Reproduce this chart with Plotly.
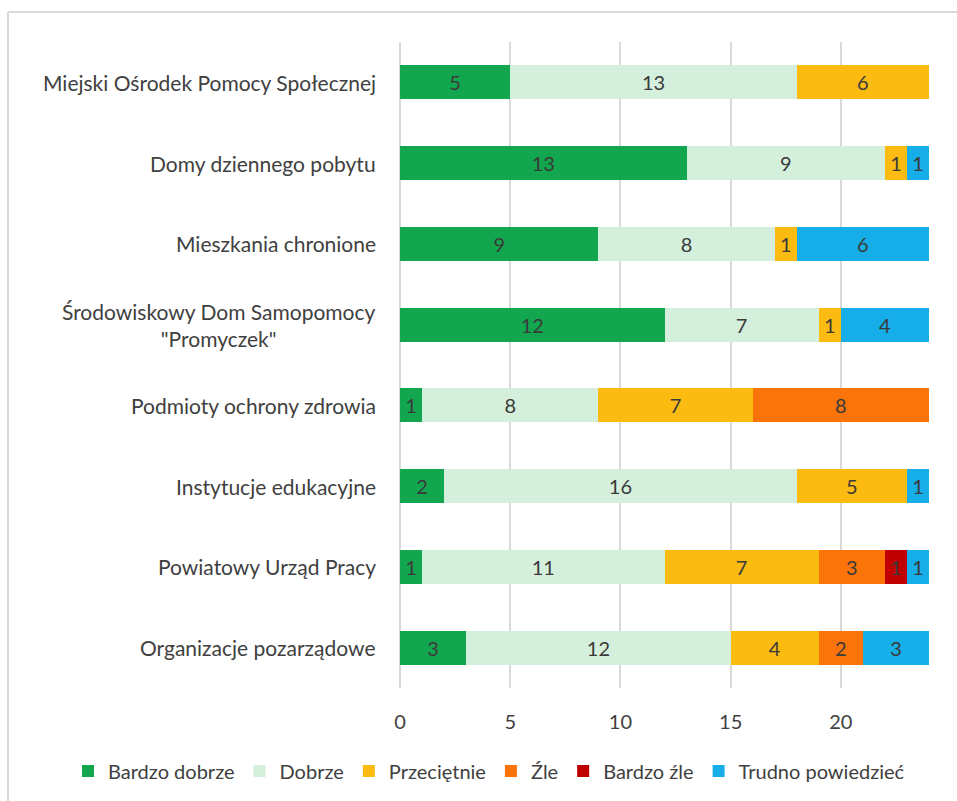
import plotly.graph_objects as go

# Institutions, listed bottom-to-top so the first entry ends up at the bottom
categories = [
    "Organizacje pozarządowe",
    "Powiatowy Urząd Pracy",
    "Instytucje edukacyjne",
    "Podmioty ochrony zdrowia",
    "Środowiskowy Dom Samopomocy<br>\"Promyczek\"",
    "Mieszkania chronione",
    "Domy dziennego pobytu",
    "Miejski Ośrodek Pomocy Społecznej",
]

bardzo_dobrze = [3, 1, 2, 1, 12, 9, 13, 5]
dobrze = [12, 11, 16, 8, 7, 8, 9, 13]
przecietnie = [4, 7, 5, 7, 1, 1, 1, 6]
zle = [2, 3, 0, 8, 0, 0, 0, 0]
bardzo_zle = [0, 1, 0, 0, 0, 0, 0, 0]
trudno = [3, 1, 1, 0, 4, 6, 1, 0]

series = [
    ("Bardzo dobrze", bardzo_dobrze, "#12a64f"),
    ("Dobrze", dobrze, "#d4f0dc"),
    ("Przeciętnie", przecietnie, "#fbbb10"),
    ("Źle", zle, "#fb7409"),
    ("Bardzo źle", bardzo_zle, "#c00000"),
    ("Trudno powiedzieć", trudno, "#16aee8"),
]

x_ticks = [0, 5, 10, 15, 20]

FONT = "Lato, 'Open Sans', sans-serif"
TXT = "#404040"

fig = go.Figure()
for name, values, color in series:
    fig.add_trace(go.Bar(
        y=categories,
        x=values,
        name=name,
        orientation="h",
        marker=dict(color=color, line=dict(width=0)),
        text=[str(v) if v else "" for v in values],
        textposition="inside",
        insidetextanchor="middle",
        textangle=0,
        textfont=dict(family=FONT, size=20, color="#3a3a3a"),
    ))

W, H = 957, 801
L, R, T, B = 400, 28, 42, 113
pw, ph = W - L - R, H - T - B

fig.update_layout(
    barmode="stack",
    bargap=0.58,
    width=W,
    height=H,
    margin=dict(l=L, r=R, t=T, b=B, pad=0, autoexpand=False),
    paper_bgcolor="white",
    plot_bgcolor="white",
    font=dict(family=FONT, size=20, color=TXT),
    xaxis=dict(
        range=[0, 24],
        tickvals=x_ticks,
        showgrid=True,
        gridcolor="#d9d9d9",
        gridwidth=1.5,
        zeroline=True,
        zerolinecolor="#d9d9d9",
        zerolinewidth=1.5,
        showline=False,
        ticks="",
        tickfont=dict(size=20, color=TXT),
        ticklabelstandoff=20,
        fixedrange=True,
    ),
    yaxis=dict(
        showgrid=False,
        showline=False,
        ticks="",
        showticklabels=False,
        fixedrange=True,
    ),
    legend=dict(
        orientation="h",
        xref="paper",
        yref="paper",
        x=(68 - L) / pw,
        y=-(771 - (H - B)) / ph,
        xanchor="left",
        yanchor="middle",
        font=dict(size=20, color=TXT),
        itemwidth=30,
        tracegroupgap=0,
        traceorder="normal",
        itemclick=False,
    ),
    showlegend=True,
)

# Category labels, centred line by line, right edge just left of the bars
for cat in categories:
    fig.add_annotation(
        xref="paper", yref="y",
        x=-22 / pw, y=cat,
        text=cat,
        showarrow=False,
        xanchor="right",
        yanchor="middle",
        align="center",
        font=dict(family=FONT, size=21, color=TXT),
    )

# Light frame around the chart area (top and left edges)
x_left = (8 - L) / pw
y_top = (H - B - 12) / ph
fig.add_shape(type="line", xref="paper", yref="paper",
              x0=x_left, x1=(W - L) / pw + 0.1, y0=y_top, y1=y_top,
              line=dict(color="#d9d9d9", width=2))
fig.add_shape(type="line", xref="paper", yref="paper",
              x0=x_left, x1=x_left, y0=y_top, y1=-B / ph - 0.1,
              line=dict(color="#d9d9d9", width=2))

fig.write_html("out.html")
